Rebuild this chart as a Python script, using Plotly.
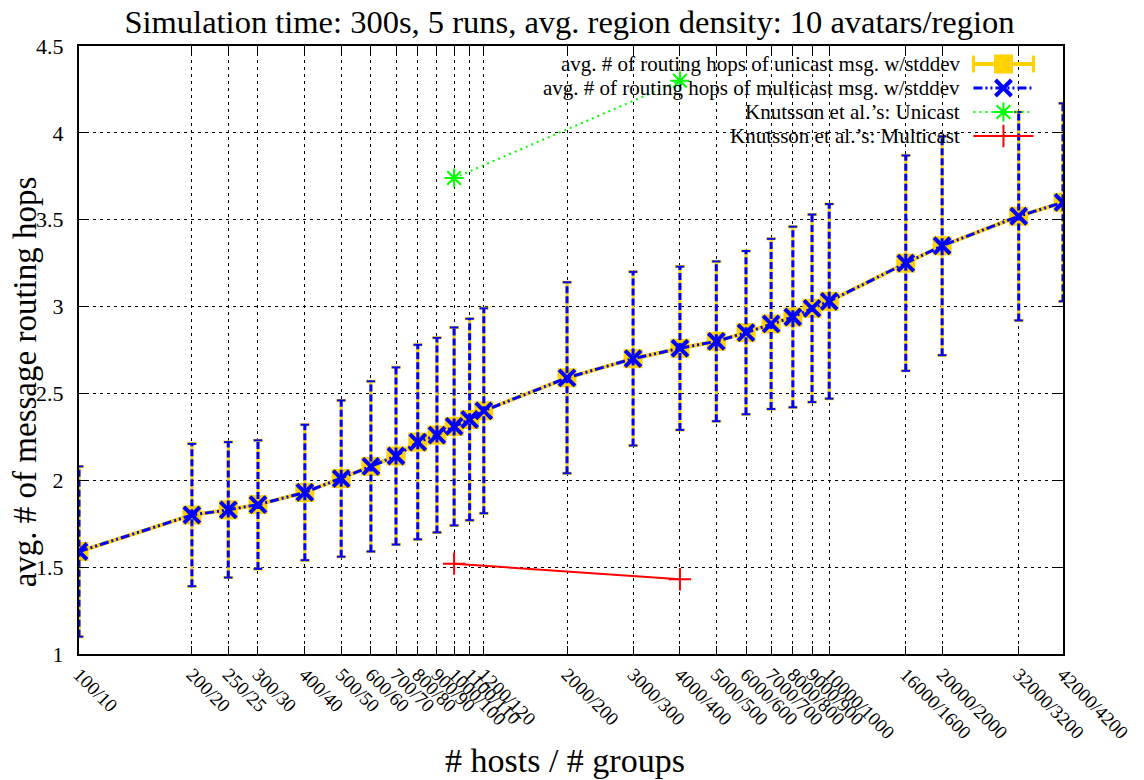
import plotly.graph_objects as go

# ---- data ----
hosts = [100, 200, 250, 300, 400, 500, 600, 700, 800, 900, 1000, 1100, 1200,
         2000, 3000, 4000, 5000, 6000, 7000, 8000, 9000, 10000, 16000, 20000, 32000, 42000]
groups = [10, 20, 25, 30, 40, 50, 60, 70, 80, 90, 100, 110, 120,
          200, 300, 400, 500, 600, 700, 800, 900, 1000, 1600, 2000, 3200, 4200]
unicast_mean = [1.59, 1.80, 1.83, 1.86, 1.93, 2.01, 2.08, 2.14, 2.22, 2.26, 2.31, 2.35, 2.40,
                2.59, 2.70, 2.76, 2.80, 2.85, 2.90, 2.94, 2.99, 3.03, 3.25, 3.35, 3.52, 3.60]
unicast_std = [0.49, 0.41, 0.39, 0.37, 0.39, 0.45, 0.49, 0.51, 0.56, 0.56, 0.57, 0.58, 0.59,
               0.55, 0.50, 0.47, 0.46, 0.47, 0.49, 0.52, 0.54, 0.56, 0.62, 0.63, 0.60, 0.57]
multicast_mean = [1.59, 1.80, 1.83, 1.86, 1.93, 2.01, 2.08, 2.14, 2.22, 2.26, 2.31, 2.35, 2.40,
                  2.59, 2.70, 2.76, 2.80, 2.85, 2.90, 2.94, 2.99, 3.03, 3.25, 3.35, 3.52, 3.60]
multicast_std = [0.49, 0.41, 0.39, 0.37, 0.39, 0.45, 0.49, 0.51, 0.56, 0.56, 0.57, 0.58, 0.59,
                 0.55, 0.50, 0.47, 0.46, 0.47, 0.49, 0.52, 0.54, 0.56, 0.62, 0.63, 0.60, 0.57]
knutsson_hosts = [1000, 4000]
knutsson_unicast = [3.74, 4.30]
knutsson_multicast = [1.52, 1.43]
tick_labels = [f"{h}/{g}" for h, g in zip(hosts, groups)]
y_ticks = [1, 1.5, 2, 2.5, 3, 3.5, 4, 4.5]
y_tick_labels = ["1", "1.5", "2", "2.5", "3", "3.5", "4", "4.5"]
legend_names = ["avg. # of routing hops of unicast msg. w/stddev",
                "avg. # of routing hops of multicast msg. w/stddev",
                "Knutsson et al.\u2019s: Unicast",
                "Knutsson et al.\u2019s: Multicast"]

GOLD = "#FFD200"
BLUE = "#0000FF"
GREEN = "#00FF00"
RED = "#FF0000"
FONT = "Liberation Serif, Times New Roman, serif"

fig = go.Figure()

# unicast: gold line, squares, gold error bars
fig.add_trace(go.Scatter(
    x=hosts, y=unicast_mean, mode="lines+markers",
    line=dict(color=GOLD, width=4),
    marker=dict(symbol="square", size=19, color=GOLD),
    error_y=dict(type="data", array=unicast_std, color=GOLD, thickness=3, width=5),
    showlegend=False))

# multicast error bars: blue dashed segments drawn over the gold ones
ex, ey = [], []
for h, m, s in zip(hosts, multicast_mean, multicast_std):
    ex += [h, h, None]
    ey += [m - s, m + s, None]
fig.add_trace(go.Scatter(
    x=ex, y=ey, mode="lines+markers",
    line=dict(color=BLUE, width=3, dash="7px,3px"),
    marker=dict(symbol="line-ew-open", size=6, color=BLUE, line=dict(color=BLUE, width=2)),
    showlegend=False))

# multicast line with X markers
fig.add_trace(go.Scatter(
    x=hosts, y=multicast_mean, mode="lines+markers",
    line=dict(color=BLUE, width=3, dash="9px,3px,2px,3px,2px,3px"),
    marker=dict(symbol="x-thin-open", size=16, color=BLUE, line=dict(color=BLUE, width=4)),
    showlegend=False))

# Knutsson
fig.add_trace(go.Scatter(
    x=knutsson_hosts, y=knutsson_unicast, mode="lines+markers",
    line=dict(color=GREEN, width=2, dash="2px,4px"),
    marker=dict(symbol="asterisk-open", size=16, color=GREEN, line=dict(color=GREEN, width=2)),
    showlegend=False))
fig.add_trace(go.Scatter(
    x=knutsson_hosts, y=knutsson_multicast, mode="lines+markers",
    line=dict(color=RED, width=2),
    marker=dict(symbol="cross-thin-open", size=16, color=RED, line=dict(color=RED, width=2)),
    showlegend=False))

# ---- gnuplot-style key (text left, sample right) on a hidden overlay axis ----
row_px = [64, 88, 112, 136]
row_y = [(654 - p) / 608 for p in row_px]
sx0, sx1, sxc = 0.909, 0.970, 0.9395
# unicast sample
fig.add_trace(go.Scatter(x=[sx0, sx1], y=[row_y[0]] * 2, xaxis="x2", yaxis="y2",
                         mode="lines+markers", line=dict(color=GOLD, width=4),
                         marker=dict(symbol="line-ns-open", size=12, color=GOLD,
                                     line=dict(color=GOLD, width=3)),
                         showlegend=False, hoverinfo="skip"))
fig.add_trace(go.Scatter(x=[sxc], y=[row_y[0]], xaxis="x2", yaxis="y2", mode="markers",
                         marker=dict(symbol="square", size=19, color=GOLD),
                         showlegend=False, hoverinfo="skip"))
# multicast sample
fig.add_trace(go.Scatter(x=[sx0, sxc, sx1], y=[row_y[1]] * 3, xaxis="x2", yaxis="y2",
                         mode="lines", line=dict(color=BLUE, width=3, dash="9px,3px,2px,3px,2px,3px"),
                         showlegend=False, hoverinfo="skip"))
fig.add_trace(go.Scatter(x=[sxc], y=[row_y[1]], xaxis="x2", yaxis="y2", mode="markers",
                         marker=dict(symbol="x-thin-open", size=16, color=BLUE,
                                     line=dict(color=BLUE, width=4)),
                         showlegend=False, hoverinfo="skip"))
# Knutsson unicast sample
fig.add_trace(go.Scatter(x=[sx0, sx1], y=[row_y[2]] * 2, xaxis="x2", yaxis="y2",
                         mode="lines", line=dict(color=GREEN, width=2, dash="2px,4px"),
                         showlegend=False, hoverinfo="skip"))
fig.add_trace(go.Scatter(x=[sxc], y=[row_y[2]], xaxis="x2", yaxis="y2", mode="markers",
                         marker=dict(symbol="asterisk-open", size=16, color=GREEN,
                                     line=dict(color=GREEN, width=2)),
                         showlegend=False, hoverinfo="skip"))
# Knutsson multicast sample
fig.add_trace(go.Scatter(x=[sx0, sx1], y=[row_y[3]] * 2, xaxis="x2", yaxis="y2",
                         mode="lines", line=dict(color=RED, width=2),
                         showlegend=False, hoverinfo="skip"))
fig.add_trace(go.Scatter(x=[sxc], y=[row_y[3]], xaxis="x2", yaxis="y2", mode="markers",
                         marker=dict(symbol="cross-thin-open", size=16, color=RED,
                                     line=dict(color=RED, width=2)),
                         showlegend=False, hoverinfo="skip"))

annotations = []
for name, ry in zip(legend_names, row_y):
    annotations.append(dict(x=0.897, y=ry, xref="paper", yref="paper", text=name,
                            showarrow=False, xanchor="right", yanchor="middle",
                            font=dict(family=FONT, size=21, color="black")))
# axis titles
annotations.append(dict(x=(567 - 79) / 989, y=-(760 - 654) / 608, xref="paper", yref="paper",
                        text="# hosts / # groups", showarrow=False,
                        xanchor="center", yanchor="middle",
                        font=dict(family=FONT, size=34, color="black")))
annotations.append(dict(x=-(79 - 25) / 989, y=(654 - 382) / 608, xref="paper", yref="paper",
                        text="avg. # of message routing hops", textangle=-90,
                        showarrow=False, xanchor="center", yanchor="middle",
                        font=dict(family=FONT, size=33, color="black")))

fig.update_layout(
    width=1144, height=780,
    margin=dict(l=79, r=76, t=46, b=126),
    paper_bgcolor="white", plot_bgcolor="white",
    font=dict(family=FONT, size=22, color="black"),
    title=dict(text="Simulation time: 300s, 5 runs, avg. region density: 10 avatars/region",
               x=(572 - 79) / 989, xref="paper", xanchor="center", y=1 - 22 / 780, yanchor="middle",
               font=dict(family=FONT, size=32.5, color="black")),
    xaxis=dict(type="log", range=[2, 4.62325], tickvals=hosts, ticktext=tick_labels,
               tickangle=45, ticks="inside", ticklen=8, tickcolor="black", tickwidth=1,
               showline=True, linecolor="black", linewidth=2, mirror="ticks",
               showgrid=True, gridcolor="black", gridwidth=1, griddash="3px,4px",
               zeroline=False, tickfont=dict(family=FONT, size=19),
               ticklabeloverflow="allow"),
    yaxis=dict(range=[1, 4.5], tickvals=y_ticks, ticktext=y_tick_labels,
               ticks="inside", ticklen=8, tickcolor="black", tickwidth=1,
               showline=True, linecolor="black", linewidth=2, mirror="ticks",
               showgrid=True, gridcolor="black", gridwidth=1, griddash="3px,4px",
               zeroline=False, tickfont=dict(family=FONT, size=22), ticklabelstandoff=9),
    xaxis2=dict(overlaying="x", range=[0, 1], visible=False),
    yaxis2=dict(overlaying="y", range=[0, 1], visible=False),
    shapes=[dict(type="rect", xref="paper", yref="paper", x0=(333 - 79) / 989, x1=1,
                 y0=(654 - 146) / 608, y1=1, fillcolor="white", line=dict(width=0),
                 layer="between")],
    annotations=annotations,
)

# keep the page exactly the figure's size (clip the rotated last tick label at the edge)
post_js = (
    "var gd=document.getElementById('{plot_id}');"
    "gd.style.overflow='hidden';gd.style.width='1144px';gd.style.height='780px';"
    "gd.querySelectorAll('.svg-container,.main-svg').forEach(function(e){e.style.overflow='hidden';});"
    "document.documentElement.style.overflow='hidden';"
    "document.body.style.overflow='hidden';document.body.style.margin='0';"
)

fig.write_html("out.html", post_script=post_js)
